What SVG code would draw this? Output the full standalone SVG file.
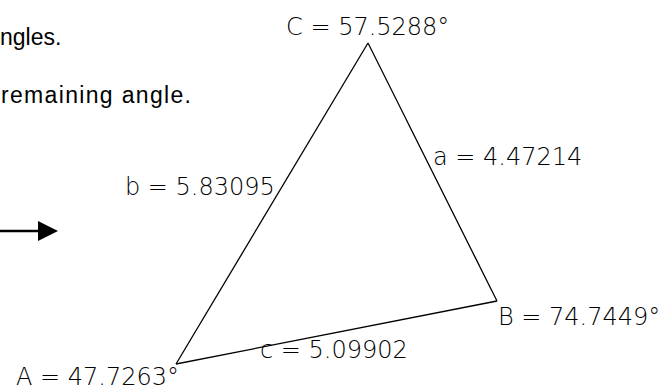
<svg xmlns="http://www.w3.org/2000/svg" width="672" height="390" viewBox="0 0 672 390">
<style>
.body{font-family:"Liberation Sans",Arial,sans-serif;font-size:23px;fill:#000}
.lbl{font-family:"DejaVu Sans","Liberation Sans",sans-serif;font-size:24px;fill:#000;font-weight:200}
.edge{stroke:#000;stroke-width:1.3;fill:none}
</style>
<rect width="672" height="390" fill="#fff"/>
<text class="body" x="0" y="45">ngles.</text>
<text class="body" x="1" y="103" textLength="190" lengthAdjust="spacing">remaining angle.</text>
<g id="arrow">
<line x1="0" y1="231" x2="40" y2="231" stroke="#000" stroke-width="2.5"/>
<polygon points="38,221 58,231 38,241" fill="#000"/>
</g>
<g id="connectors">
<line class="edge" x1="368" y1="43" x2="176" y2="364"/>
<line class="edge" x1="368" y1="43" x2="497" y2="301"/>
<line class="edge" x1="176" y1="364" x2="497" y2="301"/>
</g>
<g id="vertexC"><text class="lbl" x="286" y="35">C = 57.5288°</text></g>
<g id="vertexA"><text class="lbl" x="16" y="385">A = 47.7263°</text></g>
<g id="vertexB"><text class="lbl" x="498" y="325">B = 74.7449°</text></g>
<g id="sideA"><text class="lbl" x="433" y="165">a = 4.47214</text></g>
<g id="sideB"><text class="lbl" x="125" y="195">b = 5.83095</text></g>
<g id="sideC"><text class="lbl" x="260" y="358">c = 5.09902</text></g>
</svg>
